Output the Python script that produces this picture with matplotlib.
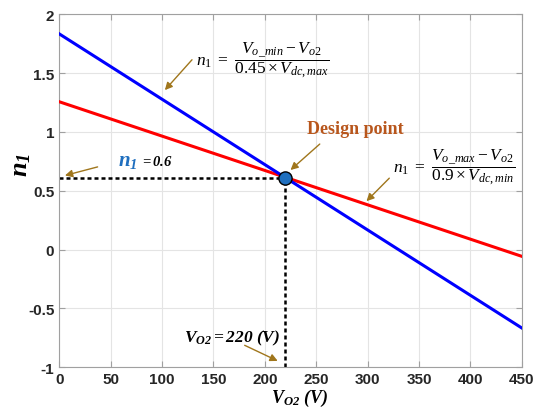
import numpy as np
import matplotlib.pyplot as plt

plt.rcParams['mathtext.fontset'] = 'custom'
plt.rcParams['mathtext.rm'] = 'Liberation Serif'
plt.rcParams['mathtext.it'] = 'Liberation Serif:italic'
plt.rcParams['mathtext.bf'] = 'Liberation Serif:bold'
plt.rcParams['mathtext.bfit'] = 'Liberation Serif:bold:italic'

# dados
vo2 = [0, 450]
n1_azul = [1.833, -0.667]     # (Vo_min - Vo2)/(0.45 Vdc,max)
n1_verm = [1.256, -0.058]     # (Vo_max - Vo2)/(0.9 Vdc,min)
v_proj = 220
n1_proj = 0.611
xticks = [0, 50, 100, 150, 200, 250, 300, 350, 400, 450]
yticks = [-1, -0.5, 0, 0.5, 1, 1.5, 2]
seta = '#A0761C'

fig = plt.figure(figsize=(5.33, 4.10), dpi=100)
ax = fig.add_axes([0.111, 0.102, 0.868, 0.861])

ax.plot(vo2, n1_verm, color='#ff0000', lw=2.2, zorder=3)
ax.plot(vo2, n1_azul, color='#0000ff', lw=2.2, zorder=3)
ax.plot([0, v_proj], [n1_proj, n1_proj], color='k', ls=(0, (1.6, 1.2)), lw=1.8, zorder=2)
ax.plot([v_proj, v_proj], [-1, n1_proj], color='k', ls=(0, (1.6, 1.2)), lw=1.8, zorder=2)
ax.plot(v_proj, n1_proj, 'o', ms=9.5, mfc='#1f6fbf', mec='k', mew=1, zorder=5, clip_on=False)

ax.set_xlim(0, 450)
ax.set_ylim(-1, 2)
ax.set_xticks(xticks)
ax.set_yticks(yticks)
ax.set_xticklabels([str(t) for t in xticks])
ax.set_yticklabels(['-1', '-0.5', '0', '0.5', '1', '1.5', '2'])
ax.grid(True, color='#e4e4e4', lw=0.8)
ax.set_axisbelow(True)
for s in ax.spines.values():
    s.set_color('#a0a0a0')
ax.tick_params(direction='in', colors='#a0a0a0', labelcolor='#262626', length=4, top=True, right=True)
for lb in ax.get_xticklabels() + ax.get_yticklabels():
    lb.set_fontweight('bold')
    lb.set_fontsize(11)
    lb.set_family('Liberation Sans')

ax.set_xlabel(r'$\mathbfit{V}_{\mathbfit{O2}}\ \mathbfit{(V)}$', fontsize=13, va='center')
ax.xaxis.set_label_coords(0.52, -0.085)
ax.set_ylabel(r'$\mathbfit{n}_{\mathbfit{1}}$', fontsize=19, va='center')
ax.yaxis.set_label_coords(-0.084, 0.575)

arr = dict(arrowstyle='-|>', color=seta, lw=1, mutation_scale=11)

# formulas
ax.text(133, 1.61, r'$n_1 \ = \ \dfrac{V_{o\_min} - V_{o2}}{0.45 \times V_{dc,max}}$',
        fontsize=12.5, ha='left', va='center')
ax.annotate('', xy=(101, 1.337), xytext=(131, 1.63), arrowprops=arr)

ax.text(325, 0.70, r'$n_1 \ = \ \dfrac{V_{o\_max} - V_{o2}}{0.9 \times V_{dc,min}}$',
        fontsize=12.5, ha='left', va='center')
ax.annotate('', xy=(297, 0.394), xytext=(323, 0.623), arrowprops=arr)

ax.text(288, 1.03, 'Design point', fontsize=13, fontweight='bold', family='Liberation Serif',
        color='#b8561c', ha='center', va='center')
ax.annotate('', xy=(223, 0.66), xytext=(255.5, 0.912), arrowprops=arr)

ax.annotate('', xy=(3, 0.623), xytext=(40, 0.708), arrowprops=arr)
ax.text(57, 0.76, r'$\mathbfit{n}_{\mathbfit{1}}$', fontsize=15, color='#1f6fbf', ha='left', va='center')
ax.text(79, 0.76, r'$\mathbfit{= 0.6}$', fontsize=10.5, color='k', ha='left', va='center')

ax.annotate('', xy=(215, -0.957), xytext=(178, -0.804), arrowprops=arr)
ax.text(215, -0.745, r'$\mathbfit{V}_{\mathbfit{O2}}\mathbfit{= 220\ (V)}$', fontsize=12.5,
        ha='right', va='center')

plt.savefig('out.png', dpi=100)
